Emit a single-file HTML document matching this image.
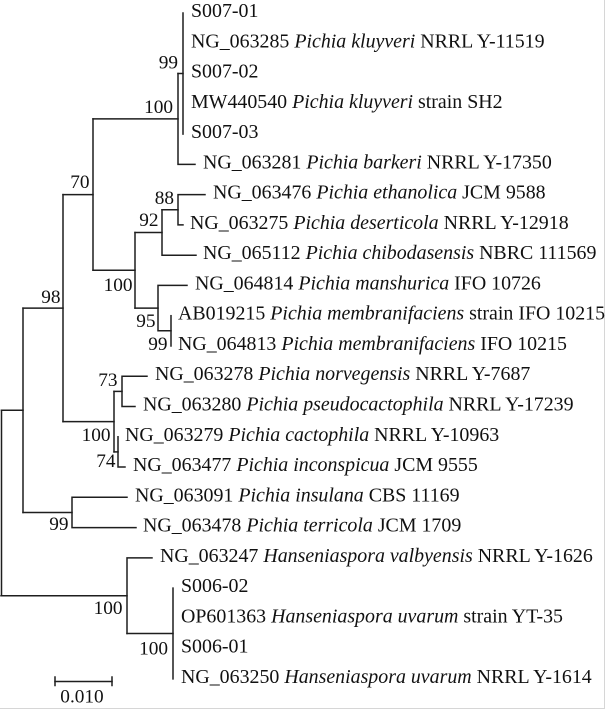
<!DOCTYPE html>
<html>
<head>
<meta charset="utf-8">
<style>
  html, body { margin: 0; padding: 0; background: #fff; font-family: "Liberation Serif", "Times New Roman", Times, serif; }
  svg { display: block; }
  svg text, svg tspan { font-family: "Liberation Serif", "Times New Roman", Times, serif; fill: #111; }
</style>
</head>
<body>
<svg width="605" height="709" viewBox="0 0 605 709" xmlns="http://www.w3.org/2000/svg" style="font-family: 'Liberation Serif', 'Times New Roman', Times, serif;" font-family="Liberation Serif, Times New Roman, serif">
  <rect x="0" y="0" width="605" height="709" fill="#fff"/>
  <!-- faint border -->
  <line x1="604.5" y1="0" x2="604.5" y2="709" stroke="#d6d6d6" stroke-width="1"/>
  <line x1="0" y1="708.5" x2="605" y2="708.5" stroke="#d6d6d6" stroke-width="1"/>

  <g fill="none" stroke="#1e1e1e" stroke-width="1.5" stroke-linecap="square">
    <!-- kluyveri clade -->
    <path d="M183,13 V134.1"/>
    <path d="M178,73.5 H183"/>
    <path d="M178,73.5 V164.4 H195"/>
    <path d="M93,118.9 H178"/>
    <!-- ethanolica clade -->
    <path d="M205,194.6 H178 V224.9 H183"/>
    <path d="M162,209.8 H178"/>
    <path d="M162,209.8 V255.2 H196"/>
    <path d="M135,232.5 H162"/>
    <!-- manshurica / membranifaciens -->
    <path d="M187,285.4 H158 V330.8 H171"/>
    <path d="M171,315.7 V346"/>
    <path d="M135,308.1 H158"/>
    <path d="M135,232.5 V308.1"/>
    <path d="M93,270.3 H135"/>
    <path d="M93,118.9 V270.3"/>
    <path d="M63,194.6 H93"/>
    <!-- norvegensis clade -->
    <path d="M147,376.2 H122 V406.5 H135"/>
    <path d="M114,391.4 H122"/>
    <path d="M118,436.8 V467 H125"/>
    <path d="M114,451.9 H118"/>
    <path d="M114,391.4 V451.9"/>
    <path d="M63,421.6 H114"/>
    <path d="M63,194.6 V421.6"/>
    <path d="M23,308.1 H63"/>
    <!-- insulana / terricola -->
    <path d="M127,497.3 H72 V527.6 H136"/>
    <path d="M23,512.5 H72"/>
    <path d="M23,308.1 V512.5"/>
    <path d="M1.5,410.3 H23"/>
    <!-- Hanseniaspora -->
    <path d="M173,588.1 V678.9"/>
    <path d="M127,633.5 H173"/>
    <path d="M152,557.9 H127 V633.5"/>
    <path d="M1,595.7 H127"/>
    <path d="M1.5,410.3 V595.7"/>
    <!-- scale bar -->
    <path d="M55,681.5 H112"/>
    <path d="M55,677 V685.5"/>
    <path d="M112,677 V685.5"/>
  </g>

  <!-- tip labels -->
  <g font-size="19.9" font-family="Liberation Serif, Times New Roman, serif" fill="#111">
    <text x="191" y="17">S007-01</text>
    <text x="191" y="47.3">NG_063285 <tspan font-style="italic">Pichia kluyveri</tspan> NRRL Y-11519</text>
    <text x="191" y="77.5">S007-02</text>
    <text x="191" y="107.8">MW440540 <tspan font-style="italic">Pichia kluyveri</tspan> strain SH2</text>
    <text x="191" y="138.1">S007-03</text>
    <text x="203" y="168.4">NG_063281 <tspan font-style="italic">Pichia barkeri</tspan> NRRL Y-17350</text>
    <text x="213" y="198.6">NG_063476 <tspan font-style="italic">Pichia ethanolica</tspan> JCM 9588</text>
    <text x="190" y="228.9">NG_063275 <tspan font-style="italic">Pichia deserticola</tspan> NRRL Y-12918</text>
    <text x="203" y="259.2">NG_065112 <tspan font-style="italic">Pichia chibodasensis</tspan> NBRC 111569</text>
    <text x="195" y="289.4">NG_064814 <tspan font-style="italic">Pichia manshurica</tspan> IFO 10726</text>
    <text x="178" y="319.7">AB019215 <tspan font-style="italic">Pichia membranifaciens</tspan> strain IFO 10215</text>
    <text x="178" y="350">NG_064813 <tspan font-style="italic">Pichia membranifaciens</tspan> IFO 10215</text>
    <text x="155" y="380.2">NG_063278 <tspan font-style="italic">Pichia norvegensis</tspan> NRRL Y-7687</text>
    <text x="143" y="410.5">NG_063280 <tspan font-style="italic">Pichia pseudocactophila</tspan> NRRL Y-17239</text>
    <text x="125" y="440.8">NG_063279 <tspan font-style="italic">Pichia cactophila</tspan> NRRL Y-10963</text>
    <text x="133" y="471">NG_063477 <tspan font-style="italic">Pichia inconspicua</tspan> JCM 9555</text>
    <text x="135" y="501.3">NG_063091 <tspan font-style="italic">Pichia insulana</tspan> CBS 11169</text>
    <text x="143" y="531.6">NG_063478 <tspan font-style="italic">Pichia terricola</tspan> JCM 1709</text>
    <text x="160" y="561.9">NG_063247 <tspan font-style="italic">Hanseniaspora valbyensis</tspan> NRRL Y-1626</text>
    <text x="181" y="592.1">S006-02</text>
    <text x="181" y="622.4">OP601363 <tspan font-style="italic">Hanseniaspora uvarum</tspan> strain YT-35</text>
    <text x="181" y="652.7">S006-01</text>
    <text x="181" y="682.9">NG_063250 <tspan font-style="italic">Hanseniaspora uvarum</tspan> NRRL Y-1614</text>
  </g>

  <!-- bootstrap values -->
  <g font-size="19.3" text-anchor="end" font-family="Liberation Serif, Times New Roman, serif" fill="#111">
    <text x="178" y="68.5">99</text>
    <text x="173" y="113">100</text>
    <text x="89.5" y="188">70</text>
    <text x="174" y="204">88</text>
    <text x="158.5" y="226">92</text>
    <text x="132.5" y="291">100</text>
    <text x="155.5" y="327">95</text>
    <text x="167.5" y="350">99</text>
    <text x="60.5" y="303">98</text>
    <text x="117.5" y="386">73</text>
    <text x="110.5" y="441">100</text>
    <text x="115.5" y="467">74</text>
    <text x="68.5" y="530">99</text>
    <text x="122.5" y="614">100</text>
    <text x="168" y="654.5">100</text>
  </g>

  <!-- scale label -->
  <text x="82" y="702.5" font-size="19.3" text-anchor="middle" font-family="Liberation Serif, Times New Roman, serif" fill="#111">0.010</text>
</svg>
</body>
</html>
